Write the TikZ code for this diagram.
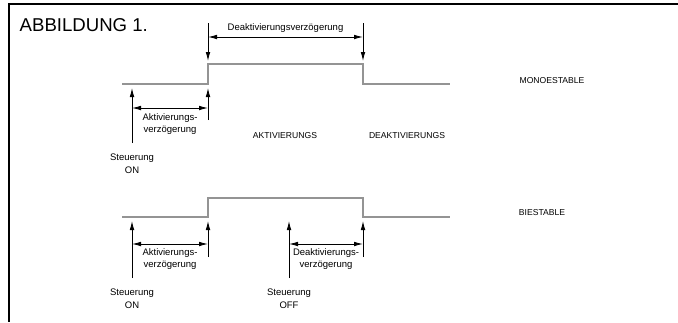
\documentclass[tikz,border=0pt]{standalone}
\usepackage{fontspec}
\setmainfont{Liberation Sans}
\usetikzlibrary{arrows.meta,positioning}

\begin{document}
\begin{tikzpicture}[
  x=1pt, y=-1pt, font=\fontsize{9.5}{12}\selectfont,
  signal/.style={draw=black!42, line width=2.6pt},
  arr/.style={-{Latex[length=9pt,width=4.6pt]}, line width=0.85pt},
  dim/.style={{Latex[length=9pt,width=4.6pt]}-{Latex[length=9pt,width=4.6pt]}, line width=0.85pt},
  lbl/.style={align=center, inner sep=1pt},
  ctrl/.style={align=center, inner sep=1pt, font=\fontsize{9.5}{13}\selectfont},
  caps/.style={inner sep=1pt, font=\fontsize{8.6}{10}\selectfont}
]
  \useasboundingbox (0,0) rectangle (678,322);
  \draw[line width=1.4pt] (678,4) -- (9,4) -- (9,322);
  \node[anchor=west, inner sep=0pt, font=\fontsize{18.6}{20}\selectfont] (title) at (19.5,25) {ABBILDUNG 1.};

  % monoestable
  \coordinate (m0) at (122,84); \coordinate (m1) at (208,84); \coordinate (m2) at (208,64);
  \coordinate (m3) at (363,64); \coordinate (m4) at (363,84); \coordinate (m5) at (450,84);
  \draw[signal] (m0) -- (m1) -- (m2) -- (m3) -- (m4) -- (m5);

  \coordinate (dOnTop) at (208,23); \coordinate (dOnTip) at (208,61);
  \coordinate (dOffTop) at (363,23); \coordinate (dOffTip) at (363,61);
  \coordinate (dL) at (208,37); \coordinate (dR) at (363,37);
  \draw[arr] (dOnTop) -- (dOnTip);
  \draw[arr] (dOffTop) -- (dOffTip);
  \draw[dim] (dL) -- (dR);
  \node[lbl] (mdelay) at (285.5,28) {Deaktivierungsverzögerung};

  \coordinate (onBot) at (132,143); \coordinate (onTip) at (132,88);
  \coordinate (actBot) at (208,120); \coordinate (actTip) at (208,88);
  \coordinate (aL) at (132,108); \coordinate (aR) at (208,108);
  \draw[arr] (onBot) -- (onTip);
  \draw[arr] (actBot) -- (actTip);
  \draw[dim] (aL) -- (aR);
  \node[lbl] (mact) at (170,124) {Aktivierungs-\\verzögerung};
  \node[ctrl] (mon) at (132,163.5) {Steuerung\\ON};

  \node[caps] (akt) at (285,136) {AKTIVIERUNGS};
  \node[caps] (deakt) at (407,136) {DEAKTIVIERUNGS};
  \node[caps] (mono) at (552,81) {MONOESTABLE};

  % biestable
  \coordinate (b0) at (122,217); \coordinate (b1) at (208,217); \coordinate (b2) at (208,198);
  \coordinate (b3) at (363,198); \coordinate (b4) at (363,217); \coordinate (b5) at (450,217);
  \draw[signal] (b0) -- (b1) -- (b2) -- (b3) -- (b4) -- (b5);

  \coordinate (bOnBot) at (132,278); \coordinate (bOnTip) at (132,221);
  \coordinate (bActBot) at (208,257); \coordinate (bActTip) at (208,221);
  \coordinate (baL) at (132,244); \coordinate (baR) at (208,244);
  \draw[arr] (bOnBot) -- (bOnTip);
  \draw[arr] (bActBot) -- (bActTip);
  \draw[dim] (baL) -- (baR);
  \node[lbl] (bact) at (170,259.5) {Aktivierungs-\\verzögerung};
  \node[ctrl] (bon) at (132,298.5) {Steuerung\\ON};

  \coordinate (bOffBot) at (289,278); \coordinate (bOffTip) at (289,221);
  \coordinate (bDeBot) at (363,257); \coordinate (bDeTip) at (363,221);
  \coordinate (bdL) at (289,244); \coordinate (bdR) at (363,244);
  \draw[arr] (bOffBot) -- (bOffTip);
  \draw[arr] (bDeBot) -- (bDeTip);
  \draw[dim] (bdL) -- (bdR);
  \node[lbl] (bdeact) at (326,259.5) {Deaktivierungs-\\verzögerung};
  \node[ctrl] (boff) at (289,298.5) {Steuerung\\OFF};

  \node[caps] (bi) at (542,213) {BIESTABLE};
\end{tikzpicture}
\end{document}
